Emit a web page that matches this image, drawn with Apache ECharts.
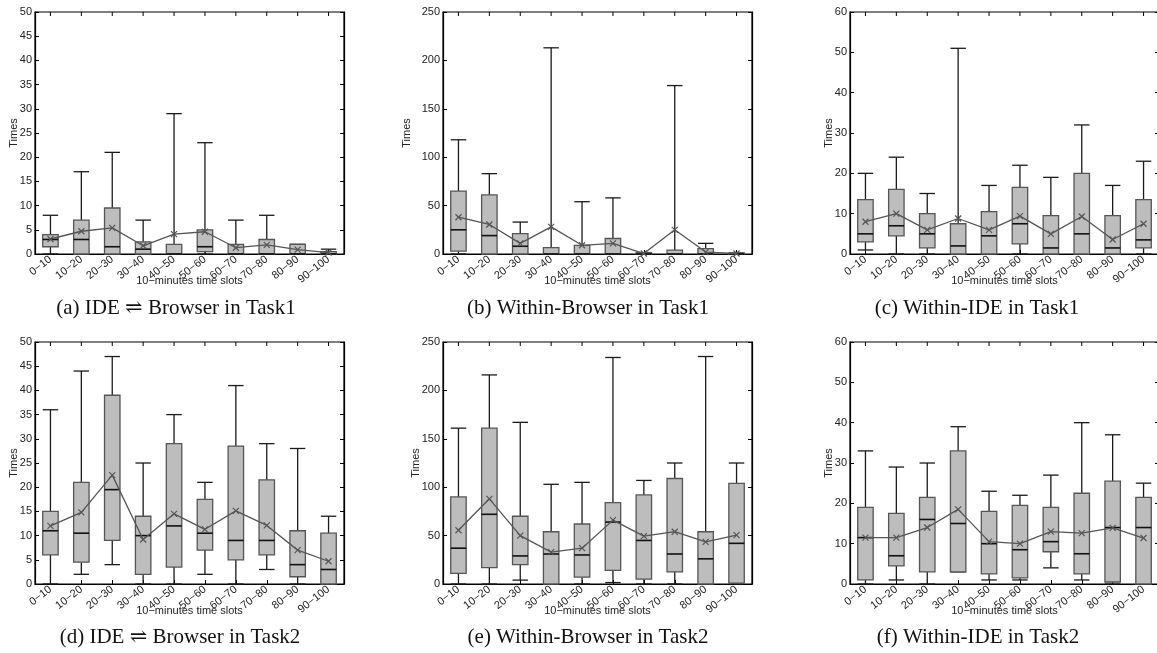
<!DOCTYPE html>
<html>
<head>
<meta charset="utf-8">
<script src="https://cdn.jsdelivr.net/npm/echarts@6/dist/echarts.min.js"></script>
<style>
html,body{margin:0;padding:0;background:#fff;}
#chart{width:1157px;height:653px;}
</style>
</head>
<body>
<div id="chart"></div>
<script>
// ---------- DATA ----------
const categories = ['0\u221210','10\u221220','20\u221230','30\u221240','40\u221250','50\u221260','60\u221270','70\u221280','80\u221290','90\u2212100'];

// each box: [lower whisker, Q1, median, Q3, upper whisker]
const ideBrowserTask1Box = [
  [0, 1.5, 3, 4, 8], [0, 0, 3, 7, 17], [0, 0, 1.5, 9.5, 21], [0, 0, 1, 2.5, 7], [0, 0, 0, 2, 29],
  [0, 0.5, 1.5, 5, 23], [0, 0, 0, 2, 7], [0, 0, 0, 3, 8], [0, 0, 0, 2, 2], [0, 0, 0, 0.5, 1]
];
const ideBrowserTask1Mean = [3.1, 4.7, 5.4, 1.7, 4.1, 4.6, 1.3, 1.9, 0.9, 0.3];

const withinBrowserTask1Box = [
  [0, 3, 25, 65, 118], [0, 0, 19, 61, 83], [0, 0, 8, 21, 33], [0, 0, 0, 6.5, 213], [0, 0, 0, 9, 54],
  [0, 0, 0, 16, 58], [0, 0, 0, 1.5, 1.5], [0, 0, 0, 4, 174], [0, 0, 0, 5.5, 11], [0, 0, 0, 1, 1]
];
const withinBrowserTask1Mean = [38, 30.5, 11, 28, 9, 11, 0.5, 25, 2, 0.5];

const withinIdeTask1Box = [
  [1, 3, 5, 13.5, 20], [0, 4.5, 7, 16, 24], [0, 1.5, 5, 10, 15], [0, 0, 2, 7.5, 51], [0, 0, 4.5, 10.5, 17],
  [0, 2.5, 7.5, 16.5, 22], [0, 0, 1.5, 9.5, 19], [0, 0, 5, 20, 32], [0, 0, 1.5, 9.5, 17], [0, 1.5, 3.5, 13.5, 23]
];
const withinIdeTask1Mean = [8, 10, 6, 8.8, 6, 9.4, 5, 9.3, 3.6, 7.5];

const ideBrowserTask2Box = [
  [0, 6, 11, 15, 36], [2, 4.5, 10.5, 21, 44], [4, 9, 19.5, 39, 47], [0, 2, 10, 14, 25], [0, 3.5, 12, 29, 35],
  [2, 7, 10.5, 17.5, 21], [0, 5, 9, 28.5, 41], [3, 6, 9, 21.5, 29], [0, 1.5, 4, 11, 28], [0, 0, 3, 10.5, 14]
];
const ideBrowserTask2Mean = [12, 14.8, 22.5, 9.2, 14.5, 11.3, 15.1, 12.1, 7, 4.7];

const withinBrowserTask2Box = [
  [0, 11, 37, 90, 161], [0, 17, 72, 161, 216], [4, 20, 29, 70, 167], [0, 0, 31, 54, 103], [0, 7, 30, 62, 105],
  [1.5, 14, 64, 84, 234], [0, 5, 45, 92, 107], [0, 12.5, 31, 109, 125], [0, 0, 26, 54, 235], [0, 1, 42, 104, 125]
];
const withinBrowserTask2Mean = [55.5, 88, 50, 33, 37, 66, 49.5, 54, 43.5, 50.5];

const withinIdeTask2Box = [
  [0, 1, 11.5, 19, 33], [1, 4.5, 7, 17.5, 29], [0, 3, 16, 21.5, 30], [3, 3, 15, 33, 39], [1, 2.5, 10, 18, 23],
  [1, 1.5, 8.5, 19.5, 22], [4, 8, 10.5, 19, 27], [1, 2.5, 7.5, 22.5, 40], [0, 0.5, 14, 25.5, 37], [0, 0, 14, 21.5, 25]
];
const withinIdeTask2Mean = [11.5, 11.5, 14, 18.5, 10.5, 10, 13, 12.6, 13.9, 11.4];

// y-axis ranges (max, tick interval)
const yMax = [50, 250, 60, 50, 250, 60];
const yInterval = [5, 50, 10, 5, 50, 10];

const captions = [
  '(a) IDE \u21CC Browser in Task1',
  '(b) Within-Browser in Task1',
  '(c) Within-IDE in Task1',
  '(d) IDE \u21CC Browser in Task2',
  '(e) Within-Browser in Task2',
  '(f) Within-IDE in Task2'
];
const xAxisTitle = '10\u2212minutes time slots';
const yAxisTitle = 'Times';

// ---------- LAYOUT ----------
const boxesList = [ideBrowserTask1Box, withinBrowserTask1Box, withinIdeTask1Box, ideBrowserTask2Box, withinBrowserTask2Box, withinIdeTask2Box];
const meansList = [ideBrowserTask1Mean, withinBrowserTask1Mean, withinIdeTask1Mean, ideBrowserTask2Mean, withinBrowserTask2Mean, withinIdeTask2Mean];
const gridLeft = [35, 443, 850, 35, 443, 850];
const gridTop = [12, 12, 12, 342, 342, 342];
const yNameGap = [16, 31, 16, 16, 22, 16];
const captionPos = [[176, 308], [588, 308], [977, 308], [180, 637], [588, 637], [978, 637]];

const SANS = 'Liberation Sans, Arial, Helvetica, sans-serif';
const SERIF = 'Liberation Serif, Times New Roman, DejaVu Serif, serif';

function renderBox(params, api) {
  const x = api.value(0);
  const lo = api.coord([x, api.value(1)]);
  const q1 = api.coord([x, api.value(2)]);
  const med = api.coord([x, api.value(3)]);
  const q3 = api.coord([x, api.value(4)]);
  const hi = api.coord([x, api.value(5)]);
  const bw = api.size([1, 0])[0] * 0.5;
  const half = bw / 2;
  const cx = lo[0];
  const topY = params.coordSys.y;
  const wStyle = { stroke: '#1a1a1a', lineWidth: 1.3 };
  return {
    type: 'group',
    children: [
      // inward tick on the top frame
      { type: 'line', shape: { x1: cx, y1: topY, x2: cx, y2: topY + 4 }, style: { stroke: '#000', lineWidth: 1 } },
      { type: 'line', shape: { x1: cx, y1: q3[1], x2: cx, y2: hi[1] }, style: wStyle },
      { type: 'line', shape: { x1: cx - half, y1: hi[1], x2: cx + half, y2: hi[1] }, style: wStyle },
      { type: 'line', shape: { x1: cx, y1: lo[1], x2: cx, y2: q1[1] }, style: wStyle },
      { type: 'line', shape: { x1: cx - half, y1: lo[1], x2: cx + half, y2: lo[1] }, style: wStyle },
      { type: 'rect', shape: { x: cx - half, y: q3[1], width: bw, height: q1[1] - q3[1] },
        style: { fill: '#bdbdbd', stroke: '#555', lineWidth: 1.3 } },
      { type: 'line', shape: { x1: cx - half, y1: med[1], x2: cx + half, y2: med[1] },
        style: { stroke: '#111', lineWidth: 1.6 } }
    ]
  };
}

const grids = [], xAxes = [], yAxes = [], series = [], graphics = [];
for (let i = 0; i < 6; i++) {
  grids.push({ show: true, borderColor: '#000', borderWidth: 1.2, backgroundColor: 'transparent',
    left: gridLeft[i], top: gridTop[i], width: 309, height: 242, outerBoundsMode: 'none', containLabel: false });
  const lineStyle = { color: '#000', width: 1.2 };
  xAxes.push({
    type: 'category', gridIndex: i, data: categories, boundaryGap: true,
    axisLine: { show: true, onZero: false, lineStyle },
    axisTick: { show: true, inside: true, alignWithLabel: true, length: 4, lineStyle: { color: '#000' } },
    axisLabel: { interval: 0, rotate: 38, fontSize: 11, color: '#222', margin: 4, fontFamily: SANS, hideOverlap: false },
    splitLine: { show: false },
    name: xAxisTitle, nameLocation: 'middle', nameGap: 21, nameMoveOverlap: false,
    nameTextStyle: { fontSize: 11, color: '#222', fontFamily: SANS }
  });
  yAxes.push({
    type: 'value', gridIndex: i, min: 0, max: yMax[i], interval: yInterval[i],
    axisLine: { show: true, onZero: false, lineStyle },
    axisTick: { show: true, inside: true, length: 4, lineStyle: { color: '#000' } },
    axisLabel: { fontSize: 11, color: '#222', margin: 3, fontFamily: SANS },
    splitLine: { show: false },
    name: yAxisTitle, nameLocation: 'middle', nameGap: yNameGap[i], nameMoveOverlap: false,
    nameTextStyle: { fontSize: 11, color: '#222', fontFamily: SANS }
  });
  yAxes.push({
    type: 'value', gridIndex: i, min: 0, max: yMax[i], interval: yInterval[i], position: 'right',
    axisLine: { show: true, onZero: false, lineStyle },
    axisTick: { show: true, inside: true, length: 4, lineStyle: { color: '#000' } },
    axisLabel: { show: false }, splitLine: { show: false }
  });
  series.push({
    type: 'custom', xAxisIndex: i, yAxisIndex: 2 * i,
    data: boxesList[i].map((b, k) => [k].concat(b)),
    encode: { x: 0, y: [1, 2, 3, 4, 5] },
    renderItem: renderBox, z: 2, silent: true
  });
  series.push({
    type: 'line', xAxisIndex: i, yAxisIndex: 2 * i,
    data: meansList[i],
    symbol: 'path://M0,0L10,10M10,0L0,10', symbolSize: 6,
    itemStyle: { color: '#555', borderColor: '#555', borderWidth: 1.2 },
    lineStyle: { color: '#555', width: 1.3 },
    z: 3, silent: true, animation: false
  });
  graphics.push({
    type: 'text', x: captionPos[i][0], y: captionPos[i][1],
    style: { text: captions[i], fontSize: 21, fontFamily: SERIF, fill: '#111', textAlign: 'center', textVerticalAlign: 'middle' }
  });
}

const chart = echarts.init(document.getElementById('chart'), null, { renderer: 'canvas' });
chart.setOption({
  animation: false,
  backgroundColor: '#fff',
  grid: grids, xAxis: xAxes, yAxis: yAxes, series: series,
  graphic: graphics
});
</script>
</body>
</html>
